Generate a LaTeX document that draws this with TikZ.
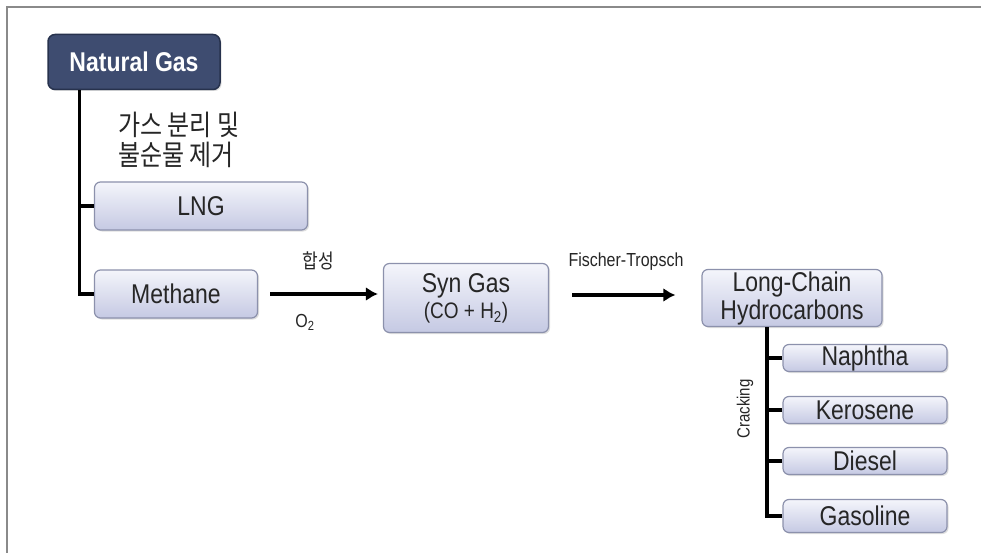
\documentclass[tikz,border=0pt]{standalone}
\usepackage{fontspec}
\setmainfont{Liberation Sans}
\newfontfamily\krfont{Noto Sans CJK KR}
\usetikzlibrary{arrows.meta,shadows}
\newcommand{\tall}[1]{\scalebox{1}[1.18]{#1}}
\definecolor{navyfill}{HTML}{3E4C70}
\definecolor{navyline}{HTML}{27324D}
\definecolor{boxtop}{HTML}{F4F5FB}
\definecolor{boxbot}{HTML}{C5C9E3}
\definecolor{boxline}{HTML}{8C91AC}
\definecolor{framegray}{HTML}{8A8A8A}
\tikzset{
  pbox/.style={draw=boxline, line width=1.2pt, rounded corners=6pt,
    top color=boxtop, bottom color=boxbot, inner sep=0pt, align=center,
    font=\fontsize{23}{27}\selectfont, text=black!85,
    drop shadow={shadow xshift=1.5pt, shadow yshift=-1.5pt, opacity=0.25}},
  darkbox/.style={draw=navyline, line width=1.5pt, rounded corners=7pt,
    fill=navyfill, text=white, inner sep=0pt,
    font=\fontsize{23}{27}\selectfont\bfseries,
    drop shadow={shadow xshift=1.5pt, shadow yshift=-1.5pt, opacity=0.25}},
  conn/.style={line width=3.4pt, black},
  arr/.style={conn, -{Latex[length=12pt,width=14pt]}},
  lbl/.style={inner sep=0pt, font=\fontsize{16}{18}\selectfont, text=black!85},
}
\begin{document}
\begin{tikzpicture}[x=1pt,y=-1pt]
\useasboundingbox (0,0) rectangle (981,553);
\fill[white] (0,0) rectangle (981,553);
\draw[framegray, line width=1.2pt] (7,553) -- (7,7) -- (981,7);

\node[darkbox, minimum width=172pt, minimum height=55pt] (ng) at (134,62) {\tall{Natural Gas}};
\node[anchor=north west, inner sep=0pt, align=left, text=black!85, font=\krfont\fontsize{24}{30}\selectfont] (sep) at (118,112) {\tall{가스 분리 및}\\\tall{불순물 제거}};
\node[pbox, minimum width=213pt, minimum height=48pt] (lng) at (201,206) {\tall{LNG}};
\node[pbox, minimum width=163pt, minimum height=48pt] (meth) at (176,294) {\tall{Methane}};
\node[pbox, minimum width=165pt, minimum height=69pt] (syn) at (466,298) {\tall{Syn Gas}\\[-1pt]{\fontsize{19}{21}\selectfont\tall{(CO + H\textsubscript{2})}}};
\node[pbox, minimum width=180pt, minimum height=57pt] (lc) at (792,298) {\tall{Long-Chain}\\[1pt]\tall{Hydrocarbons}};
\node[pbox, minimum width=164pt, minimum height=27pt] (nap) at (865,358) {\tall{Naphtha}};
\node[pbox, minimum width=164pt, minimum height=27pt] (ker) at (865,410) {\tall{Kerosene}};
\node[pbox, minimum width=164pt, minimum height=27pt] (die) at (865,461) {\tall{Diesel}};
\node[pbox, minimum width=164pt, minimum height=33pt] (gas) at (865,516) {\tall{Gasoline}};

% left tree
\coordinate (t1) at ([xshift=32pt]ng.south west);
\draw[conn] (t1) |- (meth.west);
\draw[conn] (lng.west -| t1) -- (lng.west);

% arrows
\draw[arr] ([xshift=12pt]meth.east) -- ([xshift=-5pt]meth.east -| syn.west);
\node[lbl, font=\krfont\fontsize{17}{19}\selectfont] (hs) at (318,261) {\tall{합성}};
\node[lbl] (o2) at (305,322) {\tall{O\textsubscript{2}}};
\draw[arr] ([xshift=23pt,yshift=3pt]syn.east) -- ([xshift=-26pt,yshift=3pt]syn.east -| lc.west);
\node[lbl] (ft) at (626,262) {\tall{Fischer-Tropsch}};

% right tree
\coordinate (t2) at ([xshift=-25pt]lc.south);
\draw[conn] (t2) |- (gas.west);
\draw[conn] (nap.west -| t2) -- (nap.west);
\draw[conn] (ker.west -| t2) -- (ker.west);
\draw[conn] (die.west -| t2) -- (die.west);
\node[lbl, rotate=90, font=\fontsize{15}{17}\selectfont] (crk) at (745,409) {\tall{Cracking}};
\end{tikzpicture}
\end{document}
